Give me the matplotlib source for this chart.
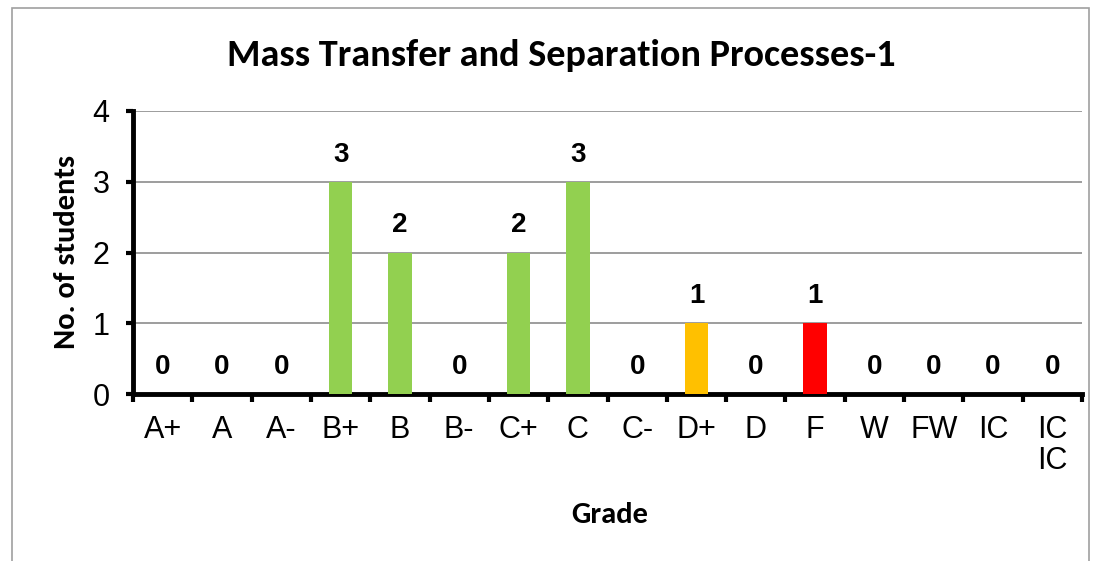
import matplotlib
matplotlib.use("Agg")
import matplotlib.pyplot as plt
from matplotlib.patches import Rectangle

# data
grades = ["A+", "A", "A-", "B+", "B", "B-", "C+", "C", "C-", "D+", "D", "F", "W", "FW", "IC", "IC\nIC"]
counts = [0, 0, 0, 3, 2, 0, 2, 3, 0, 1, 0, 1, 0, 0, 0, 0]
bar_colors = ["#92D050"] * 9 + ["#FFC000", "#92D050", "#FF0000"] + ["#92D050"] * 4

plt.rcParams['font.family'] = ['Liberation Sans', 'DejaVu Sans']
head_font = ["Carlito", "Lato", "DejaVu Sans"]

W, H = 1097, 561
fig = plt.figure(figsize=(W / 100, H / 100), dpi=100)
# outer chart border
fig.patches.append(Rectangle((12 / W, -0.02), 1 - 20 / W, 1.02 - 8 / H, transform=fig.transFigure,
                             fill=False, edgecolor="#A0A0A0", linewidth=1.2))

ax = fig.add_axes([133 / W, 1 - 394 / H, 949 / W, 283 / H])
x = list(range(len(grades)))
ax.bar(x, counts, width=0.4, color=bar_colors, zorder=3)

for xi, c in zip(x, counts):
    ax.text(xi, c + 0.2, str(c), ha="center", va="bottom", fontsize=20, fontweight="bold")

ax.set_xlim(-0.5, len(grades) - 0.5)
ax.set_ylim(0, 4)
ax.set_yticks([0, 1, 2, 3, 4])
ax.yaxis.grid(True, color="#8C8C8C", linewidth=1.2, zorder=0)

ax.set_xticks([i - 0.5 for i in range(len(grades) + 1)])
ax.set_xticklabels([])
ax.set_xticks(x, minor=True)
ax.set_xticklabels(grades, minor=True, fontsize=22, va="top", linespacing=1.05)
ax.tick_params(axis="x", which="minor", length=0, pad=15)
ax.tick_params(axis="x", which="major", length=6, width=3, direction="out")
ax.tick_params(axis="y", length=5, width=3, direction="out", labelsize=22, pad=12)

for s in ["top", "right"]:
    ax.spines[s].set_visible(False)
ax.spines["left"].set_linewidth(3.5)
ax.spines["bottom"].set_linewidth(3.5)

fig.text(561 / W, 1 - 55 / H, "Mass Transfer and Separation Processes-1", fontsize=27.5,
         fontweight="bold", family=head_font, ha="center", va="center")
fig.text(610 / W, 1 - 515 / H, "Grade", fontsize=22, fontweight="bold", family=head_font,
         ha="center", va="center")
fig.text(67 / W, 1 - 252 / H, "No. of students", fontsize=22, fontweight="bold", family=head_font,
         ha="center", va="center", rotation=90)

fig.savefig("out.png", dpi=100)
